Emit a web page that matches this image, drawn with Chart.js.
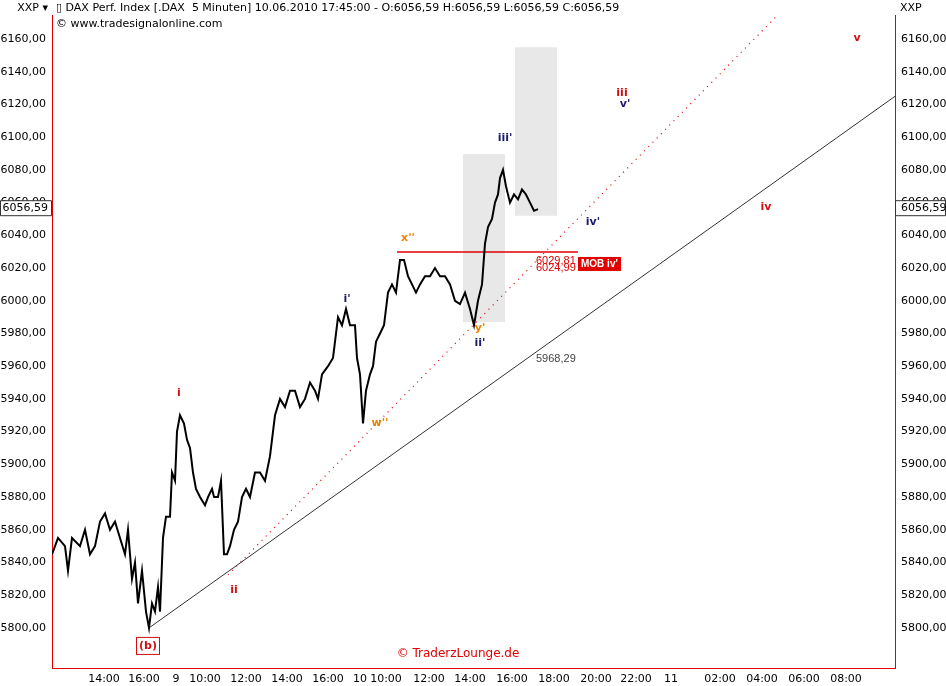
<!DOCTYPE html>
<html><head><meta charset="utf-8">
<script src="https://cdn.jsdelivr.net/npm/chart.js@4/dist/chart.umd.min.js"></script>
<style>body{margin:0;background:#fff}#wrap{width:946px;height:686px;position:relative}</style>
</head><body><div id="wrap"><canvas id="c" width="946" height="686"></canvas></div>
<script>
// x is in time slots on the compressed session axis
const tickSlots = [52, 92, 124, 153, 194, 235, 276, 308, 334, 377, 418, 460, 502, 544, 584, 619, 668, 710, 752, 794];
const tickLabels = ['14:00','16:00','9','10:00','12:00','14:00','16:00','10','10:00','12:00','14:00','16:00','18:00','20:00','22:00','11','02:00','04:00','06:00','08:00'];
const priceSlots = [0,6,13,16,20,28,33,38,43,48,53,58,63,68,73,76,80,83,86,90,94,97,100,103,106,108,111,114,118,
  120,123,125,128,132,135,138,141,144,148,153,156,160,162,166,169,172,175,178,182,186,190,194,198,203,208,213,218,223,228,233,238,243,248,253,258,263,266,270,276,281,286,290,294,298,303,
  305,308,311,314,318,321,324,328,332,336,340,344,348,352,356,360,364,368,373,378,383,388,393,398,403,408,413,418,422,426,430,433,436,440,443,446,448,451,454,458,462,466,470,474,478,482,486];
const priceValues = [5845,5855,5850,5835,5855,5850,5860,5845,5850,5865,5870,5860,5865,5855,5845,5860,5830,5840,5815,5835,5810,5800,5815,5810,5825,5810,5855,5868,5868,
  5895,5890,5920,5930,5925,5915,5910,5895,5885,5880,5875,5880,5885,5880,5880,5890,5845,5845,5850,5860,5865,5880,5885,5880,5895,5895,5890,5905,5930,5940,5935,5945,5945,5935,5940,5950,5945,5940,5955,5960,5965,5990,5985,5995,5985,5985,
  5965,5955,5925,5945,5955,5960,5975,5980,5985,6005,6010,6005,6025,6025,6015,6010,6005,6010,6015,6015,6020,6015,6015,6010,6000,5998,6005,5995,5985,6000,6010,6035,6045,6050,6060,6065,6075,6080,6070,6060,6065,6062,6068,6065,6060,6055,6056];
const trendSlots = [97, 843];  const trendValues = [5800, 6125];
const redDotSlots = [176, 760]; const redDotValues = [5832.4, 6196];
const mobSlots = [345, 526];    const mobValues = [6029.81, 6029.81];
const boxes = [[411, 453, 5987, 6089.7], [463, 505, 6052, 6155]];
const waveLabels = [
  ['i',127,5943.6,'#d01010'],['ii',182,5823,'#d01010'],['iii',570,6127,'#d01010'],['iv',714,6057,'#d01010'],['v',805,6160.6,'#d01010'],
  ["i'",295,6001,'#1a1a6e'],["ii'",428,5974,'#1a1a6e'],["iii'",453,6099.5,'#1a1a6e'],["iv'",541,6048,'#1a1a6e'],["v'",573,6120,'#1a1a6e'],
  ["x''",356,6038.4,'#f08000'],["w''",328,5925,'#f08000'],["y'",428,5983,'#f08000']
];
const lastPrice = 6056.59;
const fmt = v => v.toFixed(2).replace('.', ',');
const pts = (xs, ys) => xs.map((x, i) => ({x: x, y: ys[i]}));

const overlay = {
  id: 'overlay',
  beforeDatasetsDraw(ch) {
    const {ctx, scales: {x, y}} = ch;
    ctx.save(); ctx.fillStyle = '#e8e8e8';
    boxes.forEach(b => {
      const x0 = x.getPixelForValue(b[0]), x1 = x.getPixelForValue(b[1]);
      const y0 = y.getPixelForValue(b[3]), y1 = y.getPixelForValue(b[2]);
      ctx.fillRect(x0, y0, x1 - x0, y1 - y0);
    });
    ctx.restore();
  },
  afterDatasetsDraw(ch) {
    const {ctx, scales: {x, y}, chartArea: a} = ch;
    ctx.save();
    ctx.font = 'bold 11px "DejaVu Sans"'; ctx.textAlign = 'center'; ctx.textBaseline = 'middle';
    waveLabels.forEach(l => { ctx.fillStyle = l[3]; ctx.fillText(l[0], x.getPixelForValue(l[1]), y.getPixelForValue(l[2])); });
    // (b) boxed
    const bx = x.getPixelForValue(96), by = y.getPixelForValue(5789);
    ctx.fillStyle = '#d01010'; ctx.fillText('(b)', bx, by);
    ctx.strokeStyle = '#d01010'; ctx.lineWidth = 1; ctx.strokeRect(bx - 11.5, by - 8.5, 23, 17);
    ctx.font = '11px "Liberation Sans"'; ctx.textAlign = 'left';
    ctx.fillStyle = '#444'; ctx.fillText('5968,29', x.getPixelForValue(484), y.getPixelForValue(5964.4));
    ctx.fillStyle = '#e00000';
    ctx.fillText(fmt(6029.81), x.getPixelForValue(484), y.getPixelForValue(6024.5));
    ctx.fillText(fmt(6024.99), x.getPixelForValue(484), y.getPixelForValue(6020));
    const mx = x.getPixelForValue(526), my = y.getPixelForValue(6022.5);
    ctx.fillRect(mx, my - 7, 43, 14);
    ctx.fillStyle = '#fff'; ctx.font = 'bold 10px "Liberation Sans"'; ctx.fillText("MOB iv'", mx + 3, my);
    // last price tags
    const py = y.getPixelForValue(lastPrice);
    ctx.font = '11px "DejaVu Sans"'; ctx.fillStyle = '#fff'; ctx.strokeStyle = '#333';
    [[0, a.left], [a.right, 946]].forEach(s => {
      ctx.beginPath(); ctx.rect(s[0] + 0.5, py - 7.5, s[1] - s[0] - 1, 15); ctx.fill(); ctx.stroke();
    });
    ctx.fillStyle = '#000'; ctx.textAlign = 'right'; ctx.fillText(fmt(lastPrice), a.left - 4, py);
    ctx.textAlign = 'left'; ctx.fillText(fmt(lastPrice), a.right + 6, py);
    // header
    ctx.fillStyle = '#000'; ctx.font = '11px "DejaVu Sans"';
    ctx.fillText('\u25AF DAX Perf. Index [.DAX  5 Minuten] 10.06.2010 17:45:00 - O:6056,59 H:6056,59 L:6056,59 C:6056,59', a.left + 4, 8);
    ctx.fillText('\u00A9 www.tradesignalonline.com', a.left + 4, 24);
    ctx.textAlign = 'right'; ctx.fillText('XXP \u25BE', 48, 8);
    ctx.textAlign = 'left'; ctx.fillText('XXP', 900, 8);
    ctx.fillStyle = '#e00000'; ctx.font = '12px "DejaVu Sans"'; ctx.textAlign = 'center';
    ctx.fillText('\u00A9 TraderzLounge.de', 458, 654);
    ctx.restore();
  }
};

new Chart(document.getElementById('c'), {
  type: 'scatter',
  data: { datasets: [
    { data: pts(priceSlots, priceValues), showLine: true, borderColor: '#000', borderWidth: 2, pointRadius: 0 },
    { data: pts(trendSlots, trendValues), showLine: true, borderColor: '#333', borderWidth: 1, pointRadius: 0 },
    { data: pts(redDotSlots, redDotValues), showLine: true, borderColor: '#e00000', borderWidth: 1.2, borderDash: [1, 5], pointRadius: 0 },
    { data: pts(mobSlots, mobValues), showLine: true, borderColor: '#e00000', borderWidth: 1.5, pointRadius: 0 }
  ]},
  options: {
    responsive: false, animation: false,
    layout: { padding: { top: 15, bottom: 0 } },
    plugins: { legend: { display: false }, tooltip: { enabled: false } },
    scales: {
      x: { type: 'linear', min: 0, max: 843,
        grid: { display: false, drawTicks: true, tickLength: 5, tickColor: '#000' },
        border: { color: '#e00000' },
        afterBuildTicks: ax => { ax.ticks = tickSlots.map(v => ({value: v})); },
        afterFit: ax => { ax.height = 18; },
        ticks: { autoSkip: false, maxRotation: 0, color: '#000', font: { family: 'DejaVu Sans', size: 11 }, padding: 0,
          callback: (v) => tickLabels[tickSlots.indexOf(v)] } },
      y: { position: 'left', min: 5775.5, max: 6174.7,
        grid: { display: false, tickLength: 4, tickColor: '#000' }, border: { color: '#e00000' },
        afterFit: ax => { ax.width = 52; },
        afterBuildTicks: ax => { ax.ticks = []; for (let v = 5800; v <= 6160; v += 20) ax.ticks.push({value: v}); },
        ticks: { color: '#000', font: { family: 'DejaVu Sans', size: 11 }, padding: 2, callback: v => fmt(v) } },
      y2: { position: 'right', min: 5775.5, max: 6174.7,
        grid: { display: false, tickLength: 4, tickColor: '#000' }, border: { color: '#e00000' },
        afterFit: ax => { ax.width = 51; },
        afterBuildTicks: ax => { ax.ticks = []; for (let v = 5800; v <= 6160; v += 20) ax.ticks.push({value: v}); },
        ticks: { color: '#000', font: { family: 'DejaVu Sans', size: 11 }, padding: 2, callback: v => fmt(v) } }
    }
  },
  plugins: [overlay]
});
</script></body></html>
